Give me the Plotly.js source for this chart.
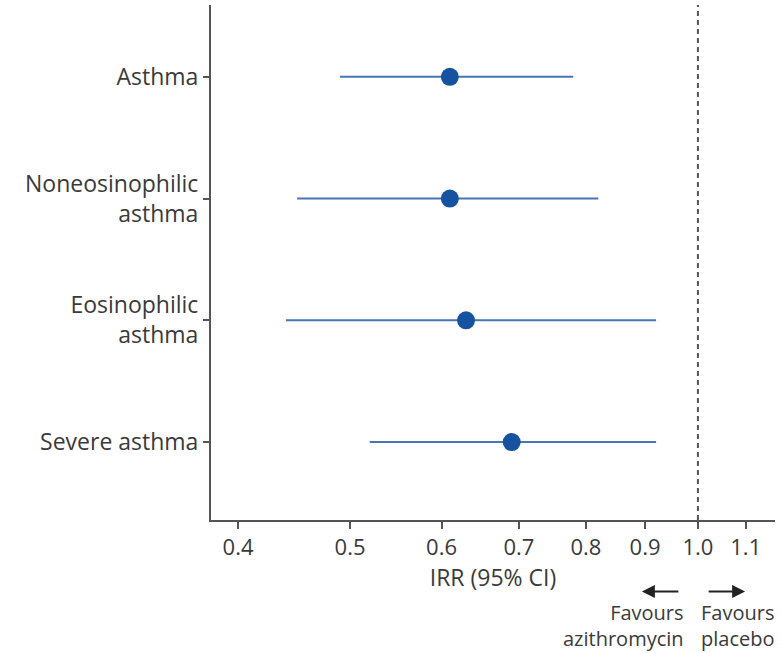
<!DOCTYPE html>
<html>
<head>
<meta charset="utf-8">
<script src="https://cdn.plot.ly/plotly-3.0.1.min.js"></script>
<style>html,body{margin:0;padding:0;background:#fff;}#chart{width:782px;height:653px;}</style>
</head>
<body>
<div id="chart"></div>
<script>
const categories = ['Asthma', 'Noneosinophilic<br>asthma', 'Eosinophilic<br>asthma', 'Severe asthma'];
const irr = [0.61, 0.61, 0.63, 0.69];
const ciLow = [0.49, 0.45, 0.44, 0.52];
const ciHigh = [0.78, 0.82, 0.92, 0.92];
const xTickVals = [0.4, 0.5, 0.6, 0.7, 0.8, 0.9, 1.0, 1.1];
const xTickText = ['0.4', '0.5', '0.6', '0.7', '0.8', '0.9', '1.0', '1.1'];
const refValue = 1.0;

const FONT = 'Open Sans, sans-serif';
const TXT = '#3a3a3a';
const yPos = categories.map((c, i) => i);
const yRange = [3.64, -0.59];

const traces = [
  {
    x: [refValue, refValue],
    y: yRange,
    type: 'scatter',
    mode: 'lines',
    line: {color: '#555555', width: 2, dash: '5px,4px'},
    hoverinfo: 'skip',
    showlegend: false
  },
  {
    x: irr,
    y: yPos,
    type: 'scatter',
    mode: 'markers',
    marker: {size: 18, color: '#1552a0'},
    error_x: {
      type: 'data',
      symmetric: false,
      array: irr.map((v, i) => ciHigh[i] - v),
      arrayminus: irr.map((v, i) => v - ciLow[i]),
      color: '#4676b3',
      thickness: 2,
      width: 0
    },
    showlegend: false
  }
];

const layout = {
  width: 782,
  height: 653,
  margin: {l: 211, r: 7, t: 5, b: 133},
  paper_bgcolor: '#ffffff',
  plot_bgcolor: '#ffffff',
  font: {family: FONT, color: TXT, size: 20},
  showlegend: false,
  xaxis: {
    type: 'log',
    range: [Math.log10(0.379), Math.log10(1.166)],
    tickvals: xTickVals,
    ticktext: xTickText,
    ticks: 'outside',
    ticklen: 7,
    tickwidth: 2,
    tickcolor: '#555555',
    showline: true,
    linecolor: '#555555',
    linewidth: 2,
    showgrid: false,
    zeroline: false,
    tickfont: {family: FONT, size: 22, color: TXT},
    title: {text: 'IRR (95% CI)', font: {family: FONT, size: 23, color: TXT}, standoff: 6}
  },
  yaxis: {
    range: yRange,
    tickvals: yPos,
    ticktext: categories,
    ticks: 'outside',
    ticklen: 6,
    tickwidth: 2,
    tickcolor: '#555555',
    showline: true,
    linecolor: '#555555',
    linewidth: 2,
    showgrid: false,
    zeroline: false,
    tickfont: {family: FONT, size: 23, color: TXT}
  },
  annotations: [
    {xref: 'paper', yref: 'paper', x: 0.764, y: -0.139, text: '', showarrow: true,
     ax: 38, ay: 0, arrowhead: 2, arrowsize: 1.3, arrowwidth: 2, arrowcolor: '#222222', standoff: 0},
    {xref: 'paper', yref: 'paper', x: 0.947, y: -0.139, text: '', showarrow: true,
     ax: -38, ay: 0, arrowhead: 2, arrowsize: 1.3, arrowwidth: 2, arrowcolor: '#222222', standoff: 0},
    {xref: 'paper', yref: 'paper', x: 0.842, y: -0.204, text: 'Favours<br>azithromycin',
     showarrow: false, xanchor: 'right', yanchor: 'middle', align: 'right',
     font: {family: FONT, size: 20, color: TXT}},
    {xref: 'paper', yref: 'paper', x: 0.865, y: -0.204, text: 'Favours<br>placebo',
     showarrow: false, xanchor: 'left', yanchor: 'middle', align: 'left',
     font: {family: FONT, size: 20, color: TXT}}
  ]
};

Plotly.newPlot('chart', traces, layout, {displayModeBar: false, staticPlot: true});
</script>
</body>
</html>
